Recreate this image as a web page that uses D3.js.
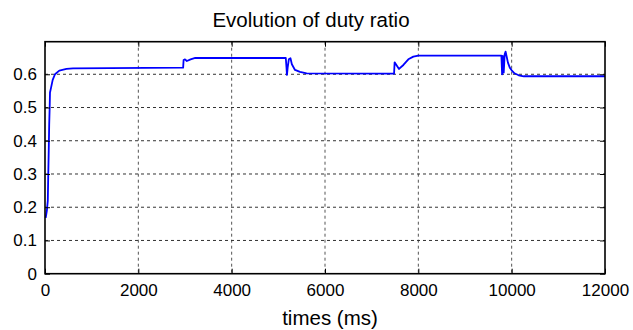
<!DOCTYPE html>
<html><head><meta charset="utf-8">
<script src="https://cdn.jsdelivr.net/npm/d3@7"></script>
<style>body{margin:0;background:#fff;} svg{display:block;}</style>
</head><body>
<script>
const times = [15,40,60,70,80,90,100,107,130,165,214,306,460,600,2960,2970,3000,3040,3120,3220,5160,5175,5185,5200,5225,5260,5290,5357,5464,5607,7480,7492,7530,7586,7680,7786,7893,8000,9780,9795,9810,9830,9850,9870,9890,9920,9960,10000,10060,10150,10260,12000];
const duty =  [0.168,0.19,0.22,0.30,0.37,0.45,0.50,0.545,0.56,0.583,0.60,0.611,0.616,0.618,0.620,0.643,0.645,0.640,0.645,0.649,0.649,0.62,0.598,0.62,0.645,0.648,0.63,0.613,0.607,0.603,0.602,0.636,0.628,0.616,0.628,0.645,0.653,0.656,0.656,0.60,0.655,0.605,0.660,0.668,0.655,0.635,0.62,0.612,0.603,0.597,0.594,0.594];
const xTicks = [0,2000,4000,6000,8000,10000,12000];
const yTicks = [0,0.1,0.2,0.3,0.4,0.5,0.6];
const title = "Evolution of duty ratio";
const xLabel = "times (ms)";

const W=633,H=330, L=45,R=605,T=41.7,B=273.7;
const svg=d3.select("body").append("svg").attr("width",W).attr("height",H);
const x=d3.scaleLinear().domain([0,12000]).range([L,R]);
const y=d3.scaleLinear().domain([0,0.698]).range([B,T]);
const font="Liberation Sans, Arial, sans-serif";

// grid
svg.append("g").selectAll("line").data(xTicks.slice(1,-1)).join("line")
  .attr("x1",d=>x(d)).attr("x2",d=>x(d)).attr("y1",T).attr("y2",B)
  .attr("stroke","#555").attr("stroke-width",1).attr("stroke-dasharray","3,3");
svg.append("g").selectAll("line").data(yTicks.slice(1)).join("line")
  .attr("x1",L).attr("x2",R).attr("y1",d=>y(d)).attr("y2",d=>y(d))
  .attr("stroke","#333").attr("stroke-width",1).attr("stroke-dasharray","3,3");

// line
const line=d3.line().x((d,i)=>x(times[i])).y(d=>y(d));
svg.append("path").datum(duty).attr("d",line).attr("fill","none")
  .attr("stroke","#0000ff").attr("stroke-width",1.8).attr("stroke-linejoin","round");

// axes
const ax=svg.append("g").attr("transform",`translate(0,${B})`)
  .call(d3.axisBottom(x).tickValues(xTicks).tickSize(-5).tickPadding(10).tickFormat(d3.format("d")));
const ay=svg.append("g").attr("transform",`translate(${L},0)`)
  .call(d3.axisLeft(y).tickValues(yTicks).tickSize(-5).tickPadding(8).tickFormat(d=>d===0?"0":d3.format(".1f")(d)));
svg.append("g").attr("transform",`translate(0,${T})`)
  .call(d3.axisTop(x).tickValues(xTicks).tickSize(-5).tickFormat(""));
svg.append("g").attr("transform",`translate(${R},0)`)
  .call(d3.axisRight(y).tickValues(yTicks).tickSize(-5).tickFormat(""));
svg.selectAll(".domain").remove();
svg.selectAll(".tick line").attr("stroke","#000").attr("stroke-width",1);
svg.selectAll(".tick text").attr("font-family",font).attr("font-size",17).attr("fill","#000");
svg.append("rect").attr("x",L).attr("y",T).attr("width",R-L).attr("height",B-T)
  .attr("fill","none").attr("stroke","#000").attr("stroke-width",1.6);

svg.append("text").attr("x",311).attr("y",26.5).attr("text-anchor","middle")
  .attr("font-family",font).attr("font-size",20.5).text(title);
svg.append("text").attr("x",330).attr("y",325).attr("text-anchor","middle")
  .attr("font-family",font).attr("font-size",20.5).text(xLabel);
</script>
</body></html>
